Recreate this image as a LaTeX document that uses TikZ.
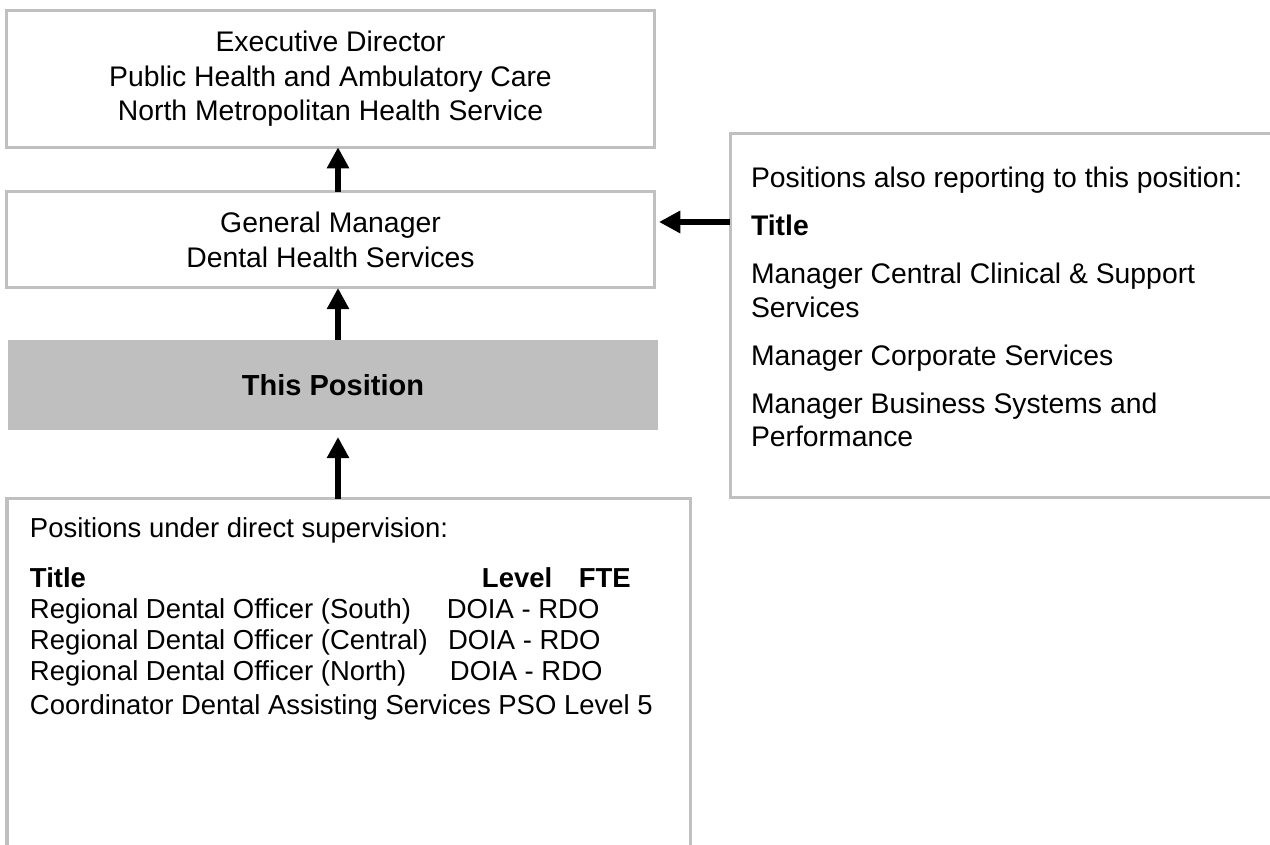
\documentclass[tikz,border=0pt]{standalone}
\usepackage{fontspec}
\setmainfont{Liberation Sans}
\usetikzlibrary{arrows.meta,positioning}

\definecolor{linegray}{RGB}{192,192,192}
\definecolor{posgray}{RGB}{191,191,191}

\tikzset{
  posbox/.style={draw=linegray, line width=0.048cm, inner sep=0pt, outer sep=0pt,
    align=center, font=\fontsize{12.9}{15.6}\selectfont},
  thispos/.style={fill=posgray, inner sep=0pt, outer sep=0pt, font=\fontsize{13.2}{15}\selectfont},
  listtext/.style={inner sep=0pt, outer sep=0pt, align=left},
  reports/.style={line width=0.1cm, -{Triangle[length=0.34cm,width=0.34cm]}}
}

\begin{document}
\begin{tikzpicture}
  \clip (0,0) rectangle (20.32,13.52);

  % chain of positions
  \node[posbox, minimum width=10.352cm, minimum height=2.192cm] (exec) at (5.288,12.26)
    {Executive Director\\Public Health and Ambulatory Care\\North Metropolitan Health Service};
  \node[posbox, minimum width=10.352cm, minimum height=1.536cm] (gm) at (5.288,9.68)
    {General Manager\\Dental Health Services};
  \node[thispos, minimum width=10.4cm, minimum height=1.44cm] (pos) at (5.328,7.36)
    {\textbf{This Position}};

  % positions under supervision, box runs on below the page
  \node[posbox, anchor=north west, minimum width=10.928cm, minimum height=7cm] (under) at (0.112,5.536) {};
  \node[listtext, font=\fontsize{12.5}{14.1}\selectfont, below right=0.29cm and 0.368cm of under.north west] (undertext)
    {Positions under direct supervision:\\[9.1pt]
     \makebox[7.232cm][l]{\textbf{Title}}\makebox[1.55cm][l]{\textbf{Level}}\textbf{FTE}\\
     \makebox[6.67cm][l]{Regional Dental Officer (South)}DOIA - RDO\\
     \makebox[6.69cm][l]{Regional Dental Officer (Central)}DOIA - RDO\\
     \makebox[6.72cm][l]{Regional Dental Officer (North)}DOIA - RDO\\[1.4pt]
     Coordinator Dental Assisting Services PSO Level 5};

  % other positions reporting to the general manager
  \node[posbox, anchor=north west, minimum width=9.5cm, minimum height=5.824cm] (also) at (11.68,11.376) {};
  \node[listtext, font=\fontsize{12.9}{15.4}\selectfont, below right=0.53cm and 0.336cm of also.north west] (alsotext)
    {Positions also reporting to this position:\\[6.4pt]
     \textbf{Title}\\[6.4pt]
     Manager Central Clinical \& Support\\
     Services\\[6.4pt]
     Manager Corporate Services\\[6.4pt]
     Manager Business Systems and\\
     Performance};

  % reporting arrows
  \coordinate (spine) at (5.408,0);
  \coordinate (side) at (0,9.968);
  \draw[reports] (pos.north -| spine) -- (gm.south -| spine);
  \draw[reports] (gm.north -| spine) -- (exec.south -| spine);
  \draw[reports] (under.north -| spine) -- ([yshift=-0.112cm]pos.south -| spine);
  \draw[reports] (also.west |- side) -- ([xshift=0.08cm]gm.east |- side);
\end{tikzpicture}
\end{document}
